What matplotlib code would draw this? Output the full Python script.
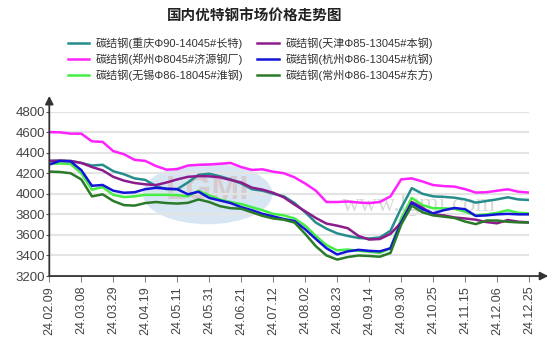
import numpy as np
import matplotlib
matplotlib.use('Agg')
import matplotlib.pyplot as plt
from matplotlib.patches import Ellipse

plt.rcParams['font.family'] = ['Liberation Sans', 'Noto Sans CJK SC']

# price data, one point every 5 trading days (ticks every 15)
# -----------------------------------------------------------
dates = ['24.02.09', '24.03.08', '24.03.29', '24.04.19', '24.05.11', '24.05.31',
         '24.06.21', '24.07.12', '24.08.02', '24.08.23', '24.09.14', '24.09.30',
         '24.10.25', '24.11.15', '24.12.06', '24.12.25']

chongqing = [4320, 4322, 4320, 4300, 4275, 4282, 4220, 4190, 4150, 4135,
             4075, 4045, 4045, 4110, 4185, 4195, 4170, 4140, 4100, 4045,
             4030, 4000, 3975, 3910, 3820, 3720, 3660, 3615, 3590, 3570,
             3565, 3575, 3640, 3860, 4055, 4000, 3975, 3970, 3962, 3945,
             3914, 3930, 3946, 3966, 3945, 3940]
zhengzhou = [4600, 4598, 4585, 4585, 4510, 4505, 4415, 4385, 4330, 4320,
             4270, 4235, 4240, 4275, 4282, 4285, 4292, 4300, 4260, 4232,
             4238, 4215, 4200, 4160, 4100, 4030, 3920, 3920, 3925, 3915,
             3910, 3920, 3975, 4140, 4150, 4120, 4085, 4075, 4070, 4045,
             4012, 4015, 4030, 4044, 4020, 4012]
wuxi = [4292, 4295, 4290, 4200, 4040, 4065, 3990, 3968, 3975, 3990,
        3990, 3990, 3988, 3975, 4030, 3985, 3945, 3920, 3900, 3870,
        3840, 3805, 3790, 3760, 3690, 3590, 3500, 3450, 3458, 3445,
        3437, 3425, 3470, 3760, 3960, 3890, 3860, 3858, 3855, 3825,
        3790, 3800, 3815, 3840, 3815, 3810]
tianjin = [4320, 4322, 4318, 4300, 4260, 4228, 4165, 4128, 4105, 4092,
           4085, 4110, 4140, 4165, 4172, 4170, 4160, 4135, 4110, 4060,
           4040, 4010, 3965, 3895, 3830, 3765, 3710, 3690, 3665, 3590,
           3555, 3560, 3610, 3720, 3920, 3865, 3800, 3790, 3770, 3760,
           3748, 3725, 3713, 3745, 3728, 3722]
hangzhou = [4285, 4320, 4315, 4230, 4078, 4086, 4030, 4010, 4015, 4045,
            4058, 4050, 4045, 3995, 4020, 3960, 3935, 3910, 3870, 3840,
            3805, 3780, 3755, 3735, 3655, 3560, 3470, 3410, 3440, 3455,
            3445, 3440, 3470, 3720, 3910, 3850, 3810, 3840, 3862, 3850,
            3785, 3790, 3800, 3805, 3800, 3800]
changzhou = [4216, 4212, 4200, 4140, 3975, 3995, 3930, 3890, 3885, 3910,
             3920, 3910, 3905, 3912, 3945, 3920, 3880, 3860, 3855, 3820,
             3785, 3760, 3748, 3720, 3610, 3490, 3400, 3360, 3385, 3400,
             3395, 3388, 3425, 3700, 3885, 3820, 3790, 3778, 3765, 3730,
             3705, 3740, 3740, 3728, 3722, 3720]

labels = ['碳结钢(重庆Φ90-14045#长特)', '碳结钢(郑州Φ8045#济源钢厂)',
          '碳结钢(无锡Φ86-18045#淮钢)', '碳结钢(天津Φ85-13045#本钢)',
          '碳结钢(杭州Φ86-13045#杭钢)', '碳结钢(常州Φ86-13045#东方)']
series = [chongqing, zhengzhou, wuxi, tianjin, hangzhou, changzhou]
colors = ['#268c8c', '#ff22ff', '#44ee44', '#8c1c8c', '#1414d8', '#2a7a2a']

x = np.arange(0, 5 * len(chongqing), 5)

fig = plt.figure(figsize=(5.54, 3.53), dpi=100)
ax = fig.add_axes([0.089, 0.218, 0.866, 0.466])

# watermark (logo + site name)
logo = Ellipse((0.33, 0.50), 0.27, 0.37, transform=ax.transAxes,
               facecolor='#cfe0f1', edgecolor='none', alpha=0.8, zorder=0)
ax.add_patch(logo)
ax.text(0.33, 0.52, 'LGMI', transform=ax.transAxes, ha='center', va='center',
        fontsize=24, fontweight='bold', color='#d9c0c0', alpha=0.7, zorder=0)
ax.text(0.77, 0.43, 'www.lgmi.com', transform=ax.transAxes, ha='center', va='center',
        fontsize=18, family='Liberation Serif', color='#d9d9d9', zorder=0)

for y, lab, c in zip(series, labels, colors):
    ax.plot(x, y, color=c, lw=1.8, label=lab, zorder=3)

ax.set_xlim(0, 225)
ax.set_ylim(3200, 4800)
ax.set_yticks(np.arange(3200, 4801, 200))
ax.set_xticks(np.arange(0, 226, 15))
ax.set_xticklabels(dates, rotation=90, fontsize=9, color='#444444')
ax.tick_params(axis='y', labelsize=9.5, labelcolor='#444444', length=2, pad=1,
               color='#555555')
ax.tick_params(axis='x', length=4, pad=3, color='#888888')
ax.grid(axis='y', color='#e4e4e4', lw=1.5, zorder=0)
ax.set_axisbelow(True)
for s in ax.spines.values():
    s.set_visible(False)

# axis lines with arrow heads
arrow = dict(arrowstyle='-|>', color='#333333', lw=1.3, mutation_scale=12,
             shrinkA=0, shrinkB=0)
ax.annotate('', xy=(1.04, 0), xytext=(0, 0), xycoords='axes fraction', arrowprops=arrow)
ax.annotate('', xy=(0, 1.095), xytext=(0, 0), xycoords='axes fraction', arrowprops=arrow)

fig.text(0.46, 0.955, '国内优特钢市场价格走势图', ha='center', va='center',
         fontsize=10.5, fontweight='bold', family=['Noto Sans CJK SC'], color='#222222')

fig.legend(loc='upper left', bbox_to_anchor=(0.112, 0.91), ncol=2, frameon=False,
           fontsize=8, handlelength=1.9, handletextpad=0.6, columnspacing=1.3,
           labelspacing=0.4, borderpad=0, labelcolor='#333333')

fig.savefig('out.png', dpi=100)
